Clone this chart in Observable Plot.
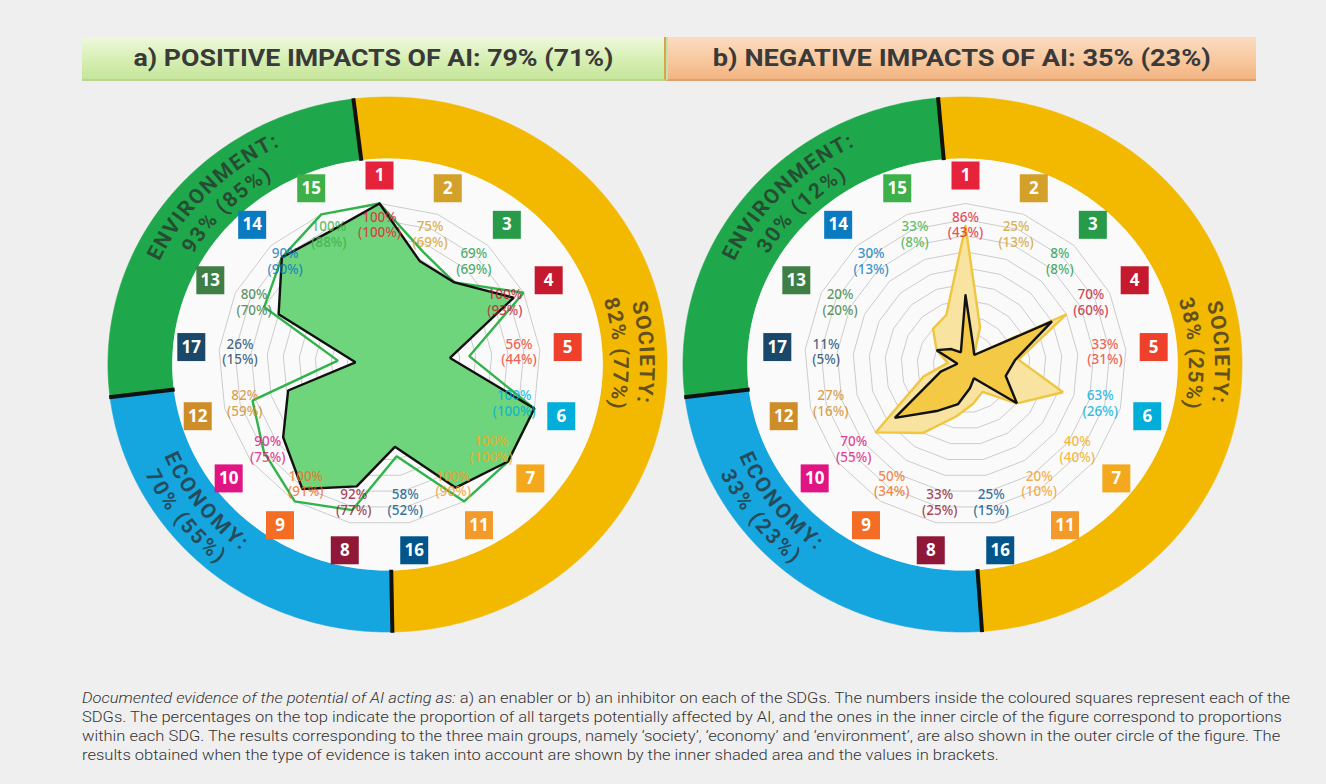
<!DOCTYPE html>
<html>
<head>
<meta charset="utf-8">
<script src="https://cdn.jsdelivr.net/npm/d3@7"></script>
<script src="https://cdn.jsdelivr.net/npm/@observablehq/plot@0.6"></script>
<style>
  html, body { margin: 0; padding: 0; background: #efefef; }
  #wrap { position: relative; width: 1326px; height: 784px; overflow: hidden; font-family: Roboto, "DejaVu Sans", sans-serif; }
  .bar { position: absolute; top: 37px; height: 44px; display: flex; align-items: center; justify-content: center; box-sizing: border-box; }
  .bar span { display: inline-block; font: 700 24px Roboto, sans-serif; color: #3a3a3a; white-space: nowrap; transform-origin: center center; }
  #barA { left: 82px; width: 584px; background: linear-gradient(to bottom, #eef8dc 0%, #d6efb2 55%, #c6e59c 100%); border-bottom: 2px solid #b9d48f; border-right: 2px solid #d9a24e; }
  #barB { left: 666px; width: 590px; background: linear-gradient(to bottom, #fbdcc0 0%, #f8c89e 55%, #f2b482 100%); border-bottom: 2px solid #e0a06c; border-left: 2px solid #bfe6a8; }
  .panel { position: absolute; top: 84px; }
  #caption { position: absolute; left: 82px; top: 689px; color: #333; font: 300 15px Roboto, sans-serif; line-height: 19px; }
  #caption div { white-space: nowrap; height: 19px; }
  #caption span.line { display: inline-block; transform-origin: left center; }
</style>
</head>
<body>
<div id="wrap">
  <div class="bar" id="barA"><span></span></div>
  <div class="bar" id="barB"><span></span></div>
  <div class="panel" id="panelA"></div>
  <div class="panel" id="panelB"></div>
  <div id="caption"></div>
</div>
<script>
// ---------------- DATA ----------------
// SDGs in the order they appear clockwise from the top
const sdgs = [1, 2, 3, 4, 5, 6, 7, 11, 16, 8, 9, 10, 12, 17, 13, 14, 15];
// a) positive impacts: all evidence, and (type of evidence taken into account)
const positiveAll      = [100, 75, 69, 100, 56, 100, 100, 100, 58, 92, 100, 90, 82, 26, 80, 90, 100];
const positiveEvidence = [100, 69, 69,  93, 44, 100, 100,  90, 52, 77,  91, 75, 59, 15, 70, 90,  88];
// b) negative impacts
const negativeAll      = [86, 25, 8, 70, 33, 63, 40, 20, 25, 33, 50, 70, 27, 11, 20, 30, 33];
const negativeEvidence = [43, 13, 8, 60, 31, 26, 40, 10, 15, 25, 34, 55, 16,  5, 20, 13,  8];
// outer-circle groups
const groupNames = ["SOCIETY:", "ECONOMY:", "ENVIRONMENT:"];
const positiveGroupAll      = [82, 70, 93];
const positiveGroupEvidence = [77, 55, 85];
const negativeGroupAll      = [38, 33, 30];
const negativeGroupEvidence = [25, 23, 12];
const panelTitles = ["a) POSITIVE IMPACTS OF AI: 79% (71%)", "b) NEGATIVE IMPACTS OF AI: 35% (23%)"];
const captionItalic = "Documented evidence of the potential of AI acting as:";
const captionLines = [
  " a) an enabler or b) an inhibitor on each of the SDGs. The numbers inside the coloured squares represent each of the",
  "SDGs. The percentages on the top indicate the proportion of all targets potentially affected by AI, and the ones in the inner circle of the figure correspond to proportions",
  "within each SDG. The results corresponding to the three main groups, namely \u2018society\u2019, \u2018economy\u2019 and \u2018environment\u2019, are also shown in the outer circle of the figure. The",
  "results obtained when the type of evidence is taken into account are shown by the inner shaded area and the values in brackets."
];

// ---------------- STYLE ----------------
const sdgColor = {1:"#E5243B",2:"#D3A029",3:"#279B48",4:"#C5192D",5:"#EF402B",6:"#00AED9",7:"#F4A81D",8:"#8F1838",9:"#F36D25",10:"#E01483",11:"#F39A2C",12:"#CF8D2A",13:"#3F7E44",14:"#0A7BC1",15:"#3EB049",16:"#02558B",17:"#19486A"};
const groupColors = ["#F3B800", "#15A6DF", "#1EA84B"];
const K = 1.61;            // px per percentage point of radius
const W = 600, H = 560;    // svg size per panel

const canvas = document.createElement("canvas");
const ctx = canvas.getContext("2d");

function buildPanel(allVals, evVals, gAll, gEv, theme) {
  const n = sdgs.length, step = 360 / n;
  const rad = a => a * Math.PI / 180;
  const px = (r, a) => r * Math.sin(rad(a));
  const py = (r, a) => r * Math.cos(rad(a));
  const ex = (r, a) => theme.ringDx + theme.ringSx * r * Math.sin(rad(a));
  const rIn = 206 / K, rOut = 267.5 / K;

  // ring sectors
  const ringMarks = theme.spans.map(([a0, a1], gi) => {
    const pts = [];
    for (let a = a0; a < a1; a += 0.5) pts.push([ex(rOut, a), py(rOut, a)]);
    pts.push([ex(rOut, a1), py(rOut, a1)]);
    for (let a = a1; a > a0; a -= 0.5) pts.push([ex(rIn, a), py(rIn, a)]);
    pts.push([ex(rIn, a0), py(rIn, a0)]);
    pts.push(pts[0]);
    return Plot.line(pts, {x: d => d[0], y: d => d[1], fill: groupColors[gi], stroke: groupColors[gi], strokeWidth: 0.6});
  });
  const disk = [];
  for (let a = 0; a <= 360; a += 1) disk.push([ex(rIn, a), py(rIn, a)]);

  // grid polygons
  const grid = [];
  d3.range(10, 101, 10).forEach(lv => {
    sdgs.forEach((s, i) => grid.push({lv, x: px(lv, i * step), y: py(lv, i * step)}));
    grid.push({lv, x: px(lv, 0), y: py(lv, 0)});
  });

  const poly = vals => {
    const p = vals.map((v, i) => ({x: px(v, i * step), y: py(v, i * step)}));
    p.push(p[0]);
    return p;
  };
  const mainPoly = poly(allVals), evPoly = poly(evVals);

  const labels = sdgs.map((s, i) => ({
    t: `${allVals[i]}%\n(${evVals[i]}%)`,
    x: px(theme.labelR, i * step), y: py(theme.labelR, i * step), c: sdgColor[s]
  }));
  const squares = sdgs.map((s, i) => ({s, x: px(189 / K, i * step), y: py(189 / K, i * step), c: sdgColor[s]}));

  // curved ring texts
  const font = "bold 21px Roboto", spacing = 1.6;
  ctx.font = font;
  function arcText(str, centerDeg, rPx, dir) {
    const chars = [...str];
    const w = chars.map(c => ctx.measureText(c).width + spacing);
    const total = d3.sum(w) - spacing;
    const span = total / rPx * 180 / Math.PI;
    let cum = 0;
    return chars.map((c, i) => {
      const mid = cum + (w[i] - spacing) / 2; cum += w[i];
      const off = mid / rPx * 180 / Math.PI;
      const a = dir > 0 ? centerDeg - span / 2 + off : centerDeg + span / 2 - off;
      return {c, x: ex(rPx / K, a), y: py(rPx / K, a), rot: dir > 0 ? a : a - 180};
    });
  }
  const ringText = [];
  groupNames.forEach((name, gi) => {
    const [ctr, dir] = theme.textPos[gi];
    const val = `${gAll[gi]}% (${gEv[gi]}%)`;
    const rName = dir > 0 ? 248 : 226, rVal = dir > 0 ? 223 : 250;
    ringText.push(...arcText(name, ctr, rName, dir), ...arcText(val, ctr, rVal, dir));
  });

  const svg = Plot.plot({
    width: W, height: H, margin: 0,
    x: {domain: [-W / 2 / K, W / 2 / K], axis: null},
    y: {domain: [-H / 2 / K, H / 2 / K], axis: null},
    color: {type: "identity"},
    style: {background: "transparent", overflow: "visible"},
    marks: [
      ...ringMarks,
      Plot.line(disk, {x: d => d[0], y: d => d[1], fill: "#fafafa", stroke: "none"}),
      Plot.link(theme.spans.map(s => s[0]), {
        x1: a => ex(rIn - 0.5, a), y1: a => py(rIn - 0.5, a),
        x2: a => ex(rOut + 0.5, a), y2: a => py(rOut + 0.5, a),
        stroke: "#111", strokeWidth: 4
      }),
      Plot.line(grid, {x: "x", y: "y", z: "lv", stroke: "#c6c6c6", strokeWidth: 0.9}),
      Plot.line(mainPoly, {x: "x", y: "y", fill: theme.mainFill, stroke: "none"}),
      Plot.line(mainPoly, {x: "x", y: "y", stroke: theme.mainStroke, strokeWidth: 2.4, strokeLinejoin: "miter"}),
      Plot.line(evPoly, {x: "x", y: "y", fill: theme.evFill, stroke: "#111", strokeWidth: 2.4, strokeLinejoin: "miter"}),
      Plot.text(labels, {x: "x", y: "y", text: "t", fill: "c", fontSize: 13.5, fontWeight: 500, lineHeight: 1.15, fillOpacity: 0.82, ariaLabel: "value-labels"}),
      Plot.dot(squares, {x: "x", y: "y", symbol: "square", r: 28 / Math.sqrt(Math.PI), fill: "c", stroke: "none"}),
      Plot.text(squares, {x: "x", y: "y", text: d => String(d.s), fill: "white", fontSize: 17, fontWeight: 700}),
      Plot.text(ringText, {x: "x", y: "y", text: "c", rotate: "rot", fill: "#2a2a2a", fillOpacity: 0.72, fontSize: 21, fontWeight: 700, fontFamily: "Roboto"})
    ]
  });
  d3.select(svg).selectAll('g[aria-label="value-labels"] text').style("letter-spacing", "0.6px");
  return svg;
}

const themeA = {
  spans: [[-7, 179], [179, 263], [263, 353]],
  ringDx: 8 / K, ringSx: 1.045,
  textPos: [[87, 1], [232, -1], [315, 1]],
  labelR: 87,
  mainFill: "none", mainStroke: "#2fb34a", evFill: "#6fd57c"
};
const themeB = {
  spans: [[-5, 176], [176, 263], [263, 355]],
  ringDx: -3 / K, ringSx: 1.045,
  textPos: [[87, 1], [232, -1], [315, 1]],
  labelR: 87,
  mainFill: "#f8e3a0", mainStroke: "#efc63f", evFill: "#f4c945"
};

const pa = document.getElementById("panelA");
pa.style.left = (379 - W / 2) + "px";
pa.appendChild(buildPanel(positiveAll, positiveEvidence, positiveGroupAll, positiveGroupEvidence, themeA));
const pb = document.getElementById("panelB");
pb.style.left = (965 - W / 2) + "px";
pb.appendChild(buildPanel(negativeAll, negativeEvidence, negativeGroupAll, negativeGroupEvidence, themeB));

// titles
const titleWidths = [480, 498];
["barA", "barB"].forEach((id, i) => {
  const sp = document.querySelector(`#${id} span`);
  sp.textContent = panelTitles[i];
  const w = sp.getBoundingClientRect().width;
  sp.style.transform = `scaleX(${titleWidths[i] / w})`;
});

// caption: one common horizontal scale, set so the first line spans the reference width
const cap = document.getElementById("caption");
const spans = captionLines.map((line, i) => {
  const div = document.createElement("div");
  const sp = document.createElement("span");
  sp.className = "line";
  if (i === 0) {
    const it = document.createElement("i");
    it.textContent = captionItalic;
    sp.appendChild(it);
  }
  sp.appendChild(document.createTextNode(line));
  div.appendChild(sp);
  cap.appendChild(div);
  return sp;
});
const capScale = 1208 / spans[0].getBoundingClientRect().width;
spans.forEach(sp => { sp.style.transform = `scaleX(${capScale})`; });
</script>
</body>
</html>
